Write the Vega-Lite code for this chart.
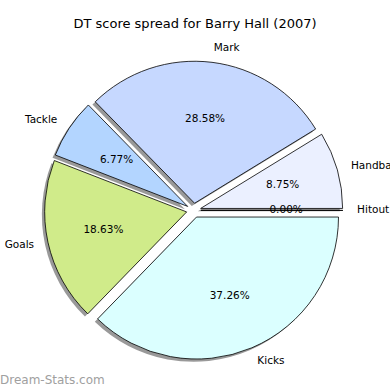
{
  "$schema": "https://vega.github.io/schema/vega-lite/v6.json",
  "width": 390,
  "height": 390,
  "autosize": {"type": "none"},
  "padding": 0,
  "background": "white",
  "title": {
    "text": "DT score spread for Barry Hall (2007)",
    "font": "DejaVu Sans",
    "fontSize": 13,
    "fontWeight": "normal",
    "color": "#000000",
    "anchor": "middle",
    "frame": "group",
    "baseline": "alphabetic",
    "offset": -41
  },
  "data": {
    "values": [
      {"slot": 1, "stat": "Handball", "share": 0.0875},
      {"slot": 2, "stat": "Mark", "share": 0.2858},
      {"slot": 3, "stat": "Tackle", "share": 0.0677},
      {"slot": 4, "stat": "Goals", "share": 0.1863},
      {"slot": 5, "stat": "Kicks", "share": 0.3726},
      {"slot": 6, "stat": "Hitout", "share": 0}
    ]
  },
  "encoding": {
    "theta": {
      "field": "share",
      "type": "quantitative",
      "stack": true,
      "scale": {"domain": [0, 0.9999], "range": [1.5707963, -4.712389]}
    },
    "order": {"field": "slot", "type": "quantitative"}
  },
  "layer": [
    {
      "mark": {
        "type": "arc",
        "outerRadius": 142,
        "fill": "#000000",
        "fillOpacity": 0.4,
        "strokeWidth": 0,
        "xOffset": {"expr": "-4.1 + 7.2*cos(PI*(datum.share_start+datum.share_end)/0.9999)"},
        "yOffset": {"expr": "18.2 - 7.2*sin(PI*(datum.share_start+datum.share_end)/0.9999)"}
      }
    },
    {
      "mark": {
        "type": "arc",
        "outerRadius": 142,
        "stroke": "#000000",
        "strokeWidth": 0.8,
        "xOffset": {"expr": "-1.3 + 7.2*cos(PI*(datum.share_start+datum.share_end)/0.9999)"},
        "yOffset": {"expr": "15.4 - 7.2*sin(PI*(datum.share_start+datum.share_end)/0.9999)"}
      },
      "encoding": {
        "color": {
          "field": "stat",
          "type": "nominal",
          "scale": {
            "domain": ["Handball", "Mark", "Tackle", "Goals", "Kicks", "Hitout"],
            "range": ["#ebf0ff", "#c6d8ff", "#b3d5ff", "#d0eb8a", "#dbffff", "#ffffff"]
          },
          "legend": null
        }
      }
    },
    {
      "mark": {
        "type": "text",
        "radius": 163.4,
        "font": "DejaVu Sans",
        "fontSize": 10.5,
        "color": "#000000",
        "baseline": "middle",
        "xOffset": -1.3,
        "yOffset": 15.4,
        "align": {"expr": "cos(PI*(datum.share_start+datum.share_end)/0.9999) >= 0 ? 'left' : 'right'"}
      },
      "encoding": {"text": {"field": "stat", "type": "nominal"}}
    },
    {
      "mark": {
        "type": "text",
        "radius": 92.4,
        "font": "DejaVu Sans",
        "fontSize": 10.5,
        "color": "#000000",
        "baseline": "middle",
        "align": "center",
        "xOffset": -1.3,
        "yOffset": 15.4
      },
      "encoding": {"text": {"field": "share", "type": "quantitative", "format": ".2%"}}
    },
    {
      "data": {"values": [{"site": "Dream-Stats.com"}]},
      "mark": {
        "type": "text",
        "x": 0,
        "y": 384,
        "align": "left",
        "baseline": "alphabetic",
        "font": "DejaVu Sans",
        "fontSize": 12,
        "color": "#a0a0a0"
      },
      "encoding": {
        "text": {"field": "site", "type": "nominal"},
        "theta": null,
        "order": null
      }
    }
  ]
}
